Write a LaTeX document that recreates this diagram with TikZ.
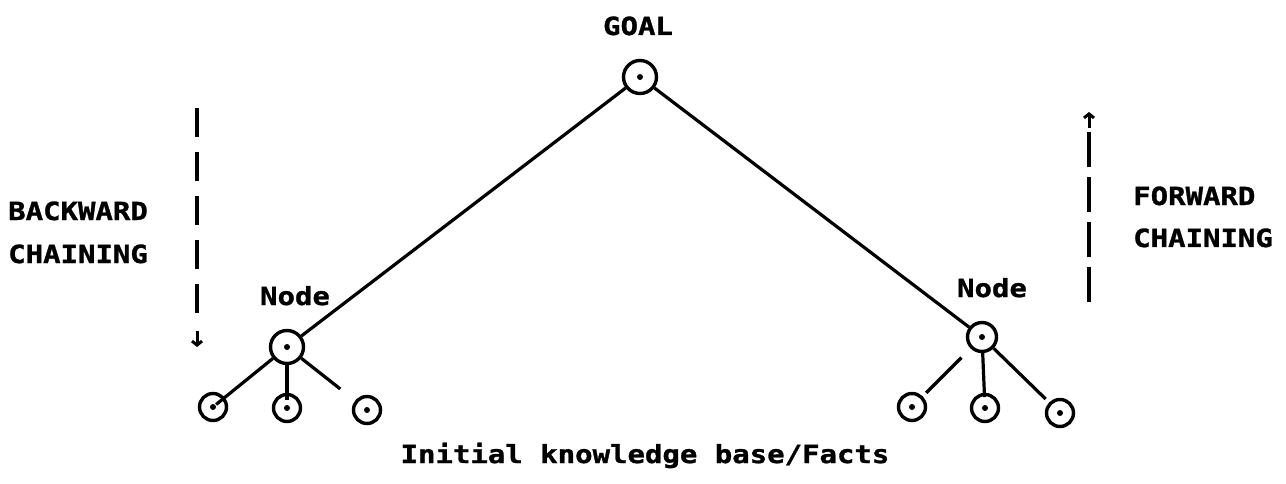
\documentclass[tikz,border=0pt]{standalone}
\usepackage{fontspec}
\newfontfamily\dmono{DejaVu Sans Mono}[FakeStretch=1.16, BoldFeatures={FakeBold=1.2}]
\usetikzlibrary{arrows.meta}
\begin{document}
\begin{tikzpicture}[x=1pt,y=-1pt,
  lab/.style={font=\dmono\bfseries\fontsize{25}{28}\selectfont, inner sep=0pt},
  bigc/.style={circle,draw,line width=3.4pt,minimum size=33pt,inner sep=0pt,
    path picture={\fill (path picture bounding box.center) circle (3pt);}},
  smallc/.style={bigc,minimum size=27pt},
  edge/.style={line width=3.2pt},
  chainl/.style={line width=3.4pt, dash pattern=on 29pt off 15pt},
  chainr/.style={line width=3.4pt, dash pattern=on 35pt off 10pt},
  tip/.style={line width=3pt, -{Straight Barb[length=4pt,width=10pt,line width=3pt]}}]
\useasboundingbox (0,0) rectangle (1286,484);
% tree nodes
\node[bigc] (goal) at (640,77) {};
\node[bigc] (L) at (287,347) {};
\node[smallc, minimum size=29pt] (R) at (982,337) {};
\node[smallc] (lc1) at (213,407) {};
\node[smallc] (lc2) at (287,408) {};
\node[smallc] (lc3) at (367,410) {};
\node[smallc] (rc1) at (912,407) {};
\node[smallc] (rc2) at (985,408) {};
\node[smallc] (rc3) at (1060,413) {};
% edges
\draw[edge] (goal) -- (L);
\draw[edge] (goal) -- (R);
\draw[edge, shorten >=4pt] (L) -- (lc1.center);
\draw[edge, shorten >=8pt] (L) -- (lc2.center);
\draw[edge, shorten >=34pt] (L) -- (lc3.center);
\draw[edge, shorten <=29pt, shorten >=20pt] (R.center) -- (rc1.center);
\draw[edge, shorten >=11pt] (R) -- (rc2.center);
\draw[edge, shorten >=20pt] (R) -- (rc3.center);
% labels
\node[lab, anchor=base] (tgoal) at (638,35) {GOAL};
\node[lab, anchor=base] (tnl) at (295,305) {Node};
\node[lab, anchor=base] (tnr) at (992,297) {Node};
\node[lab, anchor=base west] (tb1) at (8,220) {BACKWARD};
\node[lab, anchor=base west] (tb2) at (8,263) {CHAINING};
\node[lab, anchor=base west] (tf1) at (1133,205) {FORWARD};
\node[lab, anchor=base west] (tf2) at (1133,247) {CHAINING};
\node[lab, anchor=base] (tbot) at (645,463) {Initial knowledge base/Facts};
% backward chaining arrow
\coordinate (bt) at (197,108);
\coordinate (bb) at (197,316);
\draw[chainl] (bt) -- (bb);
\coordinate (ba1) at (197,331);
\coordinate (ba2) at (197,347);
\draw[tip] (ba1) -- (ba2);
% forward chaining arrow
\coordinate (fb) at (1089,302);
\coordinate (ft) at (1089,132);
\draw[chainr] (ft) -- (fb);
\coordinate (fa1) at (1089,128);
\coordinate (fa2) at (1089,112);
\draw[tip] (fa1) -- (fa2);
\end{tikzpicture}
\end{document}
